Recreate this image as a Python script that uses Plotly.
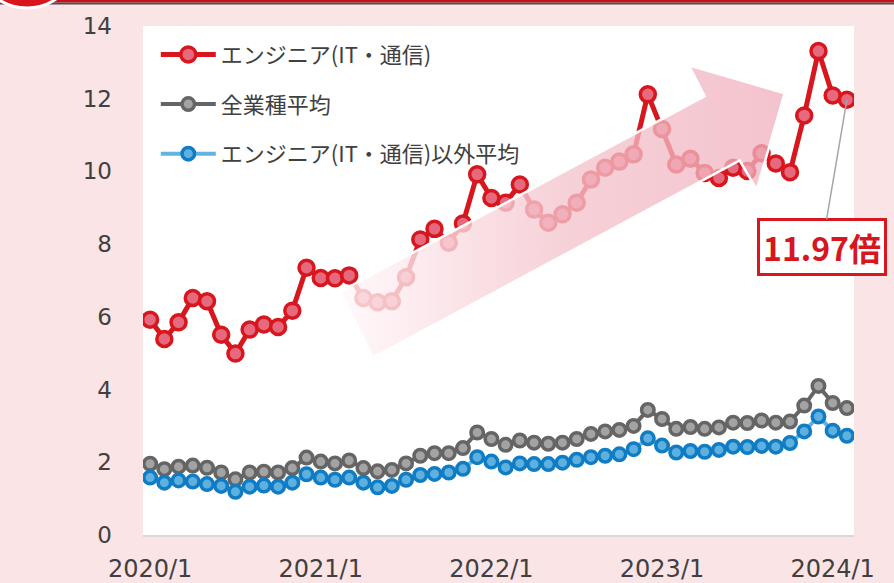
import plotly.graph_objects as go

# Monthly points 2020/1 .. 2024/2 (x = month index from 2020/1)
months = [f"{2020 + i // 12}/{i % 12 + 1}" for i in range(50)]

engineer_it = [5.92, 5.39, 5.85, 6.52, 6.43, 5.51, 4.99, 5.65, 5.79, 5.72, 6.17, 7.35,
               7.07, 7.06, 7.14, 6.52, 6.40, 6.43, 7.09, 8.13, 8.42, 8.04, 8.57, 9.92,
               9.27, 9.14, 9.64, 8.95, 8.59, 8.82, 9.14, 9.78, 10.10, 10.27, 10.47, 12.12,
               11.17, 10.19, 10.35, 9.96, 9.82, 10.10, 10.01, 10.50, 10.22, 9.98, 11.54, 13.31,
               12.09, 11.97]
all_industries = [1.96, 1.81, 1.88, 1.91, 1.85, 1.72, 1.53, 1.72, 1.74, 1.72, 1.84, 2.13,
                  2.02, 1.97, 2.05, 1.84, 1.75, 1.79, 1.97, 2.18, 2.25, 2.25, 2.39, 2.82,
                  2.64, 2.48, 2.60, 2.54, 2.51, 2.54, 2.64, 2.78, 2.85, 2.89, 3.00, 3.44,
                  3.19, 2.92, 2.97, 2.92, 2.96, 3.09, 3.08, 3.15, 3.09, 3.12, 3.56, 4.10,
                  3.63, 3.49]
non_engineer = [1.58, 1.44, 1.50, 1.47, 1.40, 1.35, 1.19, 1.33, 1.36, 1.33, 1.44, 1.67,
                1.58, 1.52, 1.58, 1.44, 1.31, 1.35, 1.52, 1.65, 1.68, 1.72, 1.82, 2.14,
                2.02, 1.86, 1.97, 1.95, 1.95, 1.99, 2.07, 2.14, 2.18, 2.22, 2.36, 2.66,
                2.46, 2.27, 2.31, 2.29, 2.34, 2.43, 2.42, 2.45, 2.43, 2.53, 2.85, 3.26,
                2.87, 2.73]

series_names = ["エンジニア(IT・通信)", "全業種平均", "エンジニア(IT・通信)以外平均"]
tick_months = ["2020/1", "2021/1", "2022/1", "2023/1", "2024/1"]

# Decorative trend arrow outline (month index, ratio)
ARROW_X = [13.35, 39.0, 37.88, 44.62, 42.66, 41.46, 15.67, 13.35]
ARROW_Y = [6.69, 12.07, 12.92, 12.15, 9.50, 10.30, 4.88, 6.69]

x = list(range(len(months)))
PINK_BG = "#fae4e6"
RED = "#d7161d"
TEXT = "#404040"
JP_FONT = "Noto Sans CJK JP"
NUM_FONT = "DejaVu Sans"

fig = go.Figure()

fig.add_trace(go.Scatter(
    x=x, y=engineer_it, name=series_names[0], mode="lines+markers",
    line=dict(color=RED, width=5),
    marker=dict(size=15, color="#e6697d", line=dict(color=RED, width=3.5)),
    legendgroup="a", hoverinfo="skip"))
fig.add_trace(go.Scatter(
    x=x, y=all_industries, name=series_names[1], mode="lines+markers",
    line=dict(color="#656565", width=4),
    marker=dict(size=12.5, color="#a3a3a3", line=dict(color="#656565", width=3.5)),
    legendgroup="b", hoverinfo="skip"))
fig.add_trace(go.Scatter(
    x=x, y=non_engineer, name=series_names[2], mode="lines+markers",
    line=dict(color="#62b3e0", width=4),
    marker=dict(size=12.5, color="#5eb0de", line=dict(color="#0f7cc4", width=3.5)),
    legendgroup="c", hoverinfo="skip"))

# Translucent trend arrow drawn over the lines
fig.add_trace(go.Scatter(
    x=ARROW_X, y=ARROW_Y, mode="lines", fill="toself",
    line=dict(color="white", width=2.5),
    fillgradient=dict(type="horizontal",
                      colorscale=[[0, "rgba(255,248,250,0.8)"],
                                  [0.5, "rgba(244,196,205,0.78)"],
                                  [1, "rgba(240,176,189,0.75)"]]),
    showlegend=False, hoverinfo="skip"))

fig.add_annotation(
    x=x[-1], y=engineer_it[-1], text=f"{engineer_it[-1]:.2f}倍",
    showarrow=True, arrowhead=0, arrowwidth=1.5, arrowcolor="#a6a6a6",
    ax=-25, ay=147, standoff=0,
    font=dict(family=JP_FONT, size=32, color=RED, weight="bold"),
    bordercolor=RED, borderwidth=3, borderpad=3, bgcolor="white")

# Header strip and badge at the top edge
def py(p):
    return (535 - p) / 509

def px(p):
    return (p - 143) / 711

fig.add_shape(type="rect", xref="paper", yref="paper", x0=px(-5), x1=px(900),
              y0=py(2.5), y1=py(-1), fillcolor="#c8101a", line_width=0, layer="above")
fig.add_shape(type="rect", xref="paper", yref="paper", x0=px(-5), x1=px(900),
              y0=py(4.5), y1=py(2.5), fillcolor="#5a4a4a", line_width=0, layer="above")
fig.add_shape(type="circle", xref="paper", yref="paper", x0=px(-24), x1=px(78),
              y0=py(8), y1=py(-94), fillcolor=RED, line=dict(color="white", width=3),
              layer="above")

fig.update_layout(
    width=894, height=583,
    margin=dict(l=143, r=40, t=26, b=48, autoexpand=False),
    paper_bgcolor=PINK_BG, plot_bgcolor="white",
    showlegend=True,
    legend=dict(x=0.018, y=0.985, xanchor="left", yanchor="top",
                bgcolor="rgba(0,0,0,0)", itemwidth=55, tracegroupgap=18,
                font=dict(family=JP_FONT, size=22, color=TEXT),
                itemclick=False, itemdoubleclick=False),
    xaxis=dict(range=[-0.5, 49.5], tickvals=[months.index(m) for m in tick_months],
               ticktext=tick_months, showgrid=False, zeroline=False,
               showline=True, linecolor="#d9d9d9", linewidth=2, ticks="",
               ticklabelstandoff=11, automargin=False,
               tickfont=dict(family=NUM_FONT, size=24, color=TEXT)),
    yaxis=dict(range=[0, 14], dtick=2, showgrid=False, zeroline=False,
               showline=False, ticks="", ticklabelstandoff=30, automargin=False,
               tickfont=dict(family=NUM_FONT, size=23, color=TEXT)),
)

fig.write_html("out.html")
